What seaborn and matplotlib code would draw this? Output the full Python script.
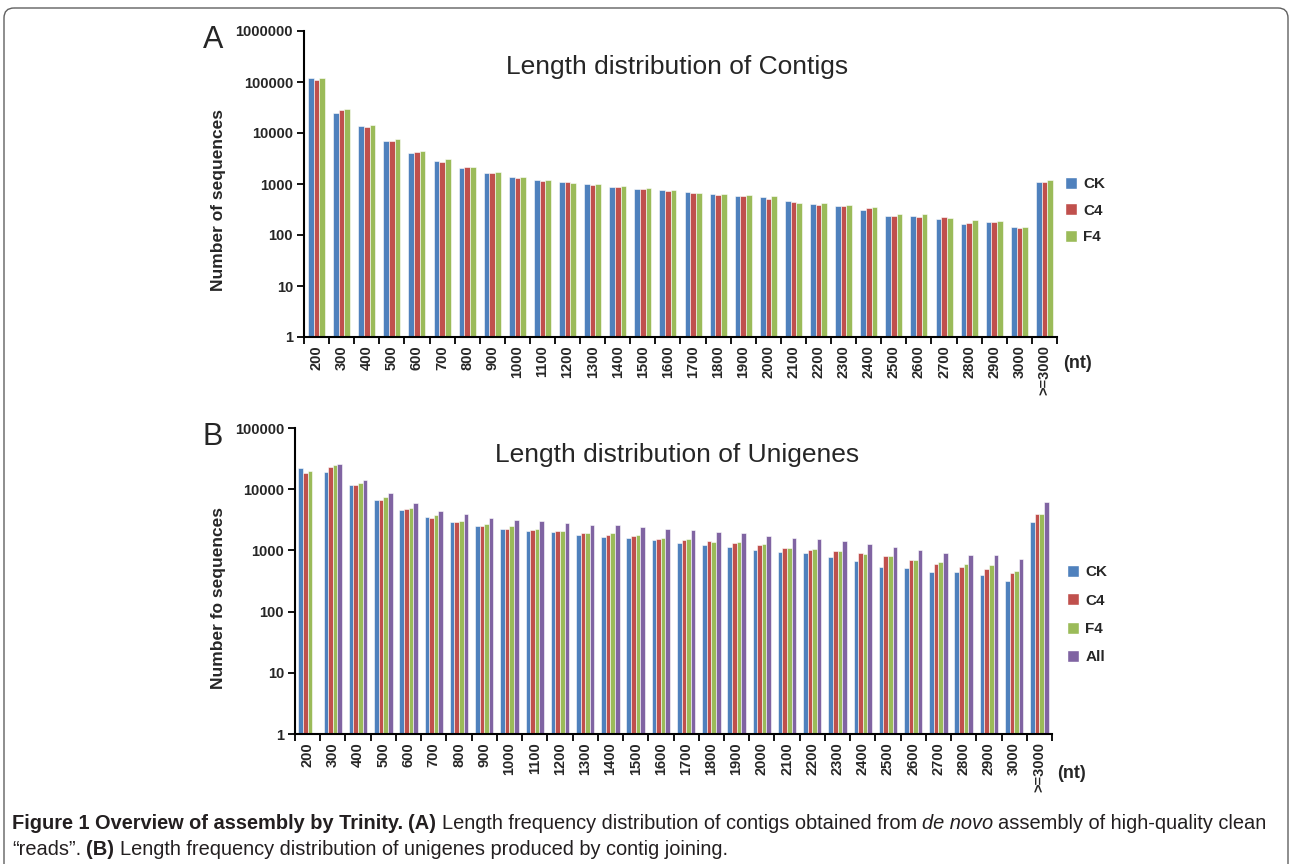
import numpy as np
import pandas as pd
import matplotlib
matplotlib.use("Agg")
import matplotlib.pyplot as plt
import seaborn as sns
from matplotlib.patches import FancyBboxPatch, Patch
from matplotlib.ticker import FuncFormatter, NullLocator

# sequence length classes (nt)
lengths = ['200', '300', '400', '500', '600', '700', '800', '900', '1000', '1100',
           '1200', '1300', '1400', '1500', '1600', '1700', '1800', '1900', '2000', '2100',
           '2200', '2300', '2400', '2500', '2600', '2700', '2800', '2900', '3000', '>=3000']

# A - contigs
contig_ck = [121000, 24300, 13500, 7060, 4110, 2820, 2030, 1670, 1370, 1200,
             1110, 1010, 873, 809, 773, 707, 627, 590, 548, 457,
             398, 371, 305, 239, 236, 206, 162, 177, 146, 1094]
contig_c4 = [110000, 28200, 13300, 7060, 4300, 2730, 2150, 1620, 1330, 1160,
             1080, 970, 862, 787, 729, 667, 617, 590, 508, 444,
             387, 371, 343, 236, 229, 229, 170, 182, 139, 1110]
contig_f4 = [118000, 29000, 14300, 7600, 4500, 3050, 2150, 1740, 1390, 1200,
             1060, 1000, 914, 835, 763, 667, 627, 617, 573, 430,
             424, 382, 354, 258, 258, 219, 194, 188, 143, 1180]

# B - unigenes
unigene_ck = [21900, 19400, 11900, 6700, 4560, 3510, 2940, 2530, 2240, 2050,
              1980, 1807, 1640, 1597, 1482, 1340, 1214, 1140, 1019, 933,
              899, 775, 667, 533, 507, 436, 436, 395, 316, 2942]
unigene_c4 = [18400, 23400, 11900, 6700, 4670, 3420, 2940, 2530, 2250, 2150,
              2070, 1947, 1787, 1702, 1556, 1466, 1427, 1325, 1242, 1111,
              1007, 968, 899, 804, 710, 603, 533, 488, 431, 3920]
unigene_f4 = [19900, 24500, 12800, 7410, 4850, 3770, 3050, 2700, 2500, 2210,
              2075, 1947, 1905, 1767, 1597, 1520, 1390, 1375, 1276, 1099,
              1058, 968, 867, 795, 710, 658, 603, 574, 458, 3875]
unigene_all = [np.nan, 25500, 14400, 8510, 5840, 4430, 3920, 3370, 3170, 3050,
               2770, 2600, 2570, 2438, 2213, 2130, 1973, 1950, 1720, 1615,
               1520, 1410, 1260, 1140, 1019, 923, 834, 834, 718, 6150]

colors = {'CK': '#4F81BD', 'C4': '#C0504D', 'F4': '#9BBB59', 'All': '#8064A2'}

sns.set_theme(style='ticks')
plt.rcParams['font.family'] = ['Liberation Sans', 'DejaVu Sans']

W, H = 1292, 864
fig = plt.figure(figsize=(W / 100, H / 100), dpi=100)

# overlay in pixel coords for free text and the frame
bg = fig.add_axes([0, 0, 1, 1])
bg.set_xlim(0, W)
bg.set_ylim(H, 0)
bg.axis('off')
bg.add_patch(FancyBboxPatch((4, 8), W - 8, H + 20, boxstyle='round,pad=0,rounding_size=10',
                            fill=False, ec='#606060', lw=1.0, clip_on=False))


def make_df(series):
    rows = []
    for name, vals in series.items():
        for lab, v in zip(lengths, vals):
            rows.append({'length': lab, 'sample': name, 'count': v})
    return pd.DataFrame(rows)


def px_axes(left, top, right, bottom):
    return fig.add_axes([left / W, 1 - bottom / H, (right - left) / W, (bottom - top) / H])


def draw_panel(ax, df, order, width, ymax):
    sns.barplot(data=df, x='length', y='count', hue='sample', order=lengths, hue_order=order,
                palette=colors, width=width, edgecolor='white', linewidth=0.4,
                saturation=1, legend=False, ax=ax)
    ax.set_facecolor('none')
    ax.set_yscale('log')
    ax.set_ylim(1, ymax)
    ax.set_xlim(-0.5, len(lengths) - 0.5)
    ax.set_yticks([10 ** k for k in range(int(np.log10(ymax)) + 1)])
    ax.yaxis.set_major_formatter(FuncFormatter(lambda v, p: f'{int(round(v))}'))
    ax.yaxis.set_minor_locator(NullLocator())
    ax.set_xticks(range(len(lengths)))
    ax.set_xticklabels(lengths, rotation=90, fontweight='bold', fontsize=10.5)
    ax.set_xticks(np.arange(-0.5, len(lengths), 1), minor=True)
    ax.tick_params(axis='x', which='major', length=0, pad=6)
    ax.tick_params(axis='x', which='minor', length=5, width=1.3, color='black', direction='out')
    ax.tick_params(axis='y', which='major', length=5, width=1.3, color='black', labelsize=10.5, pad=3)
    for t in ax.get_yticklabels():
        t.set_fontweight('bold')
    ax.set_xlabel('')
    ax.set_ylabel('')
    sns.despine(ax=ax)
    for s in ['left', 'bottom']:
        ax.spines[s].set_linewidth(1.5)
        ax.spines[s].set_color('black')
    handles = [Patch(facecolor=colors[k], edgecolor='white', label=k) for k in order]
    return handles


# panel A
axA = px_axes(304, 31, 1057, 337)
dfA = make_df({'CK': contig_ck, 'C4': contig_c4, 'F4': contig_f4})
hA = draw_panel(axA, dfA, ['CK', 'C4', 'F4'], 0.68, 1e6)
axA.legend(handles=hA, loc='upper left', bbox_to_anchor=(1059 / W, 1 - 171 / H),
           bbox_transform=fig.transFigure, frameon=False,
           prop={'weight': 'bold', 'size': 11}, handlelength=0.8, handleheight=0.8,
           handletextpad=0.4, labelspacing=0.8, borderaxespad=0)

# panel B
axB = px_axes(295, 428, 1052, 734)
dfB = make_df({'CK': unigene_ck, 'C4': unigene_c4, 'F4': unigene_f4, 'All': unigene_all})
hB = draw_panel(axB, dfB, ['CK', 'C4', 'F4', 'All'], 0.73, 1e5)
axB.legend(handles=hB, loc='upper left', bbox_to_anchor=(1061 / W, 1 - 559 / H),
           bbox_transform=fig.transFigure, frameon=False,
           prop={'weight': 'bold', 'size': 11}, handlelength=0.8, handleheight=0.8,
           handletextpad=0.4, labelspacing=0.93, borderaxespad=0)

# titles, letters, axis labels
bg.text(677, 67, 'Length distribution of Contigs', fontsize=19, ha='center', va='center')
bg.text(677, 455, 'Length distribution of Unigenes', fontsize=19, ha='center', va='center')
bg.text(213, 40, 'A', fontsize=22, ha='center', va='center')
bg.text(213, 437, 'B', fontsize=22, ha='center', va='center')
bg.text(218, 200, 'Number of sequences', fontsize=12.5, fontweight='bold', rotation=90,
        ha='center', va='center')
bg.text(218, 598, 'Number fo sequences', fontsize=12.5, fontweight='bold', rotation=90,
        ha='center', va='center')
bg.text(1077, 364, '(nt)', fontsize=13, fontweight='bold', ha='center', va='center')
bg.text(1071, 773, '(nt)', fontsize=13, fontweight='bold', ha='center', va='center')

# caption with mixed styles
cap_font = ['Liberation Sans', 'DejaVu Sans']
cap_size = 14.4
renderer = fig.canvas.get_renderer()
space = cap_size * 0.26 * 100 / 72


def caption_line(x, y, pieces):
    for s, weight, style in pieces:
        t = bg.text(x, y, s, fontsize=cap_size, fontweight=weight, fontstyle=style,
                    family=cap_font, color='#231f20', ha='left', va='baseline')
        x += t.get_window_extent(renderer).width + space


caption_line(12, 829, [('Figure 1 Overview of assembly by Trinity.', 'bold', 'normal'),
                       ('(A)', 'bold', 'normal'),
                       ('Length frequency distribution of contigs obtained from', 'normal', 'normal'),
                       ('de novo', 'normal', 'italic'),
                       ('assembly of high-quality clean', 'normal', 'normal')])
caption_line(12, 855, [('\u201creads\u201d.', 'normal', 'normal'),
                       ('(B)', 'bold', 'normal'),
                       ('Length frequency distribution of unigenes produced by contig joining.',
                        'normal', 'normal')])

fig.savefig('out.png', dpi=100)
